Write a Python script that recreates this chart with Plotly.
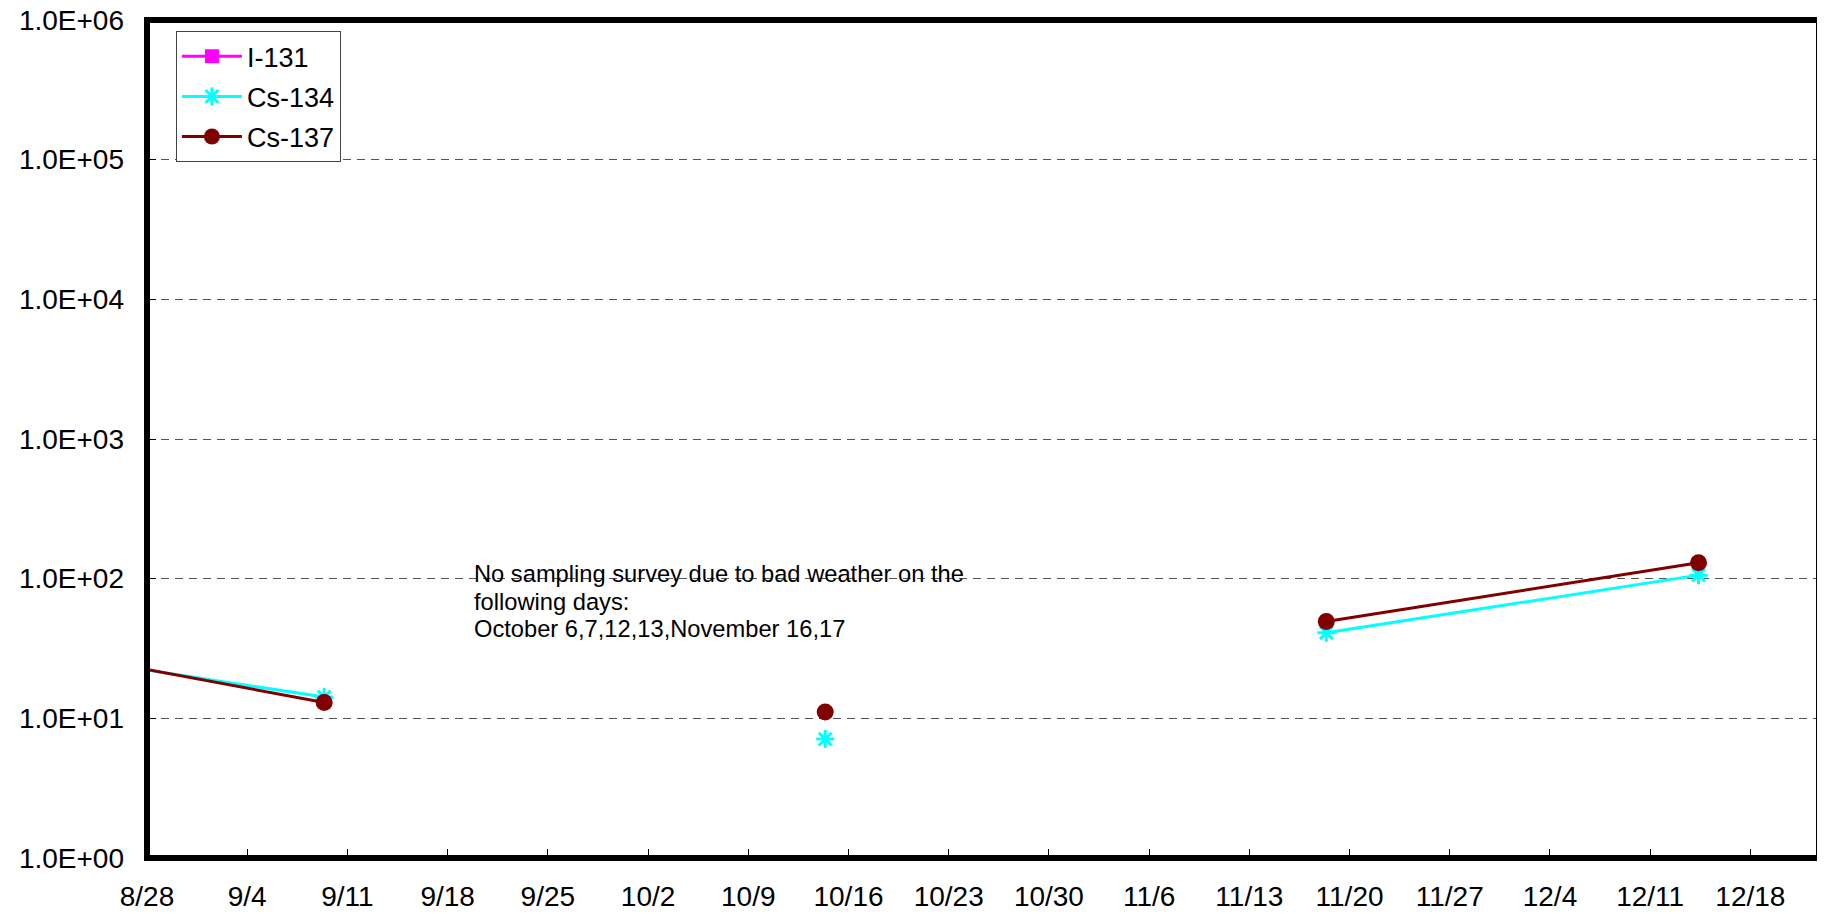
import plotly.graph_objects as go
import pandas as pd

# sampling dates (2011) and measured values (None = not detected / no sample)
dates = ["2011-08-26", "2011-09-09", "2011-09-23", "2011-10-14",
         "2011-10-28", "2011-11-18", "2011-12-14"]
i131 = [None, None, None, None, None, None, None]
cs134 = [23.5, 14.2, None, 7.1, None, 41.0, 106.0]
cs137 = [24.0, 13.0, None, 11.1, None, 49.3, 130.0]

ytick_vals = [1, 10, 100, 1000, 10000, 100000, 1000000]
ytick_text = ["1.0E+00", "1.0E+01", "1.0E+02", "1.0E+03", "1.0E+04", "1.0E+05", "1.0E+06"]

note_lines = ["No sampling survey due to bad weather on the",
              "following days:",
              "October 6,7,12,13,November 16,17"]

# sampling time of day
x = pd.to_datetime(dates) + pd.Timedelta(hours=9)

FONT = "Liberation Sans, Arial, sans-serif"

fig = go.Figure()
fig.add_trace(go.Scatter(
    x=x, y=i131, name="I-131", mode="lines+markers", legendgroup="a",
    line=dict(color="#FF00FF", width=3),
    marker=dict(symbol="square", size=14, color="#FF00FF"),
    connectgaps=False))
fig.add_trace(go.Scatter(
    x=x, y=cs134, name="Cs-134", mode="lines+markers", legendgroup="b",
    line=dict(color="#00FFFF", width=3),
    marker=dict(symbol="asterisk-open", size=15, color="#00FFFF",
                line=dict(color="#00FFFF", width=3)),
    connectgaps=False))
fig.add_trace(go.Scatter(
    x=x, y=cs137, name="Cs-137", mode="lines+markers", legendgroup="c",
    line=dict(color="#800000", width=3),
    marker=dict(symbol="circle", size=17, color="#800000"),
    connectgaps=False))

note_y = [0.339, 0.306, 0.273]
for line, yy in zip(note_lines, note_y):
    fig.add_annotation(
        text=line, xref="paper", yref="paper", x=0.1942, y=yy,
        xanchor="left", yanchor="middle", align="left", showarrow=False,
        font=dict(family=FONT, size=23.7, color="black"))

# plot-area frame
fig.add_shape(type="rect", xref="paper", yref="paper", x0=0, x1=1, y0=0, y1=1,
              line=dict(color="black", width=6), fillcolor="rgba(0,0,0,0)",
              layer="above")

fig.update_layout(
    width=1817, height=906,
    margin=dict(l=139, r=6, t=12, b=56),
    paper_bgcolor="white", plot_bgcolor="white",
    font=dict(family=FONT, color="black"),
    showlegend=True,
    legend=dict(x=0.0173, y=0.9866, xanchor="left", yanchor="top",
                bgcolor="white", bordercolor="#444", borderwidth=1,
                font=dict(size=27), traceorder="grouped", tracegroupgap=2,
                itemwidth=60),
)

fig.update_xaxes(
    type="date", range=["2011-08-28", "2011-12-22 19:00"],
    tick0="2011-08-28", dtick=7 * 24 * 3600 * 1000, tickformat="%-m/%-d",
    ticks="inside", ticklen=9, tickwidth=1, tickcolor="black",
    showline=False, showgrid=False, zeroline=False, automargin=False,
    tickfont=dict(family=FONT, size=28),
    ticklabelstandoff=19)

fig.update_yaxes(
    type="log", range=[0, 6],
    tickvals=ytick_vals, ticktext=ytick_text,
    ticks="inside", ticklen=9, tickwidth=1, tickcolor="black",
    showline=False,
    showgrid=True, gridcolor="#555", gridwidth=1, griddash="8px,6px",
    zeroline=False, automargin=False, ticklabeloverflow="allow",
    tickfont=dict(family=FONT, size=28),
    ticklabelstandoff=22)

fig.write_html("out.html")
